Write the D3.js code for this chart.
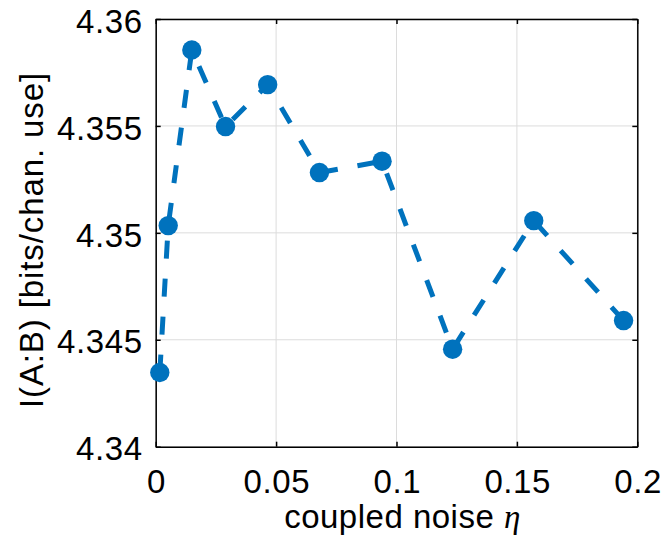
<!DOCTYPE html>
<html>
<head>
<meta charset="utf-8">
<script src="https://cdn.jsdelivr.net/npm/d3@7"></script>
<style>
  html, body { margin: 0; padding: 0; background: #fff; }
  svg { display: block; font-family: "Liberation Sans", Arial, sans-serif; }
</style>
</head>
<body>
<svg id="chart" width="663" height="549"></svg>
<script>
// Mutual information versus coupled noise strength
const etaValues = [0.0017, 0.0052, 0.015, 0.029, 0.0465, 0.068, 0.094, 0.1233, 0.157, 0.1943];
const mutualInfo = [4.34347, 4.35034, 4.35855, 4.35497, 4.35693, 4.35282, 4.35335, 4.34456, 4.35057, 4.3459];
const xTicks = [0, 0.05, 0.1, 0.15, 0.2];
const xTickLabels = ["0", "0.05", "0.1", "0.15", "0.2"];
const yTicks = [4.34, 4.345, 4.35, 4.355, 4.36];
const yTickLabels = ["4.34", "4.345", "4.35", "4.355", "4.36"];

const svg = d3.select("#chart");
const plotL = 155.7, plotR = 637.3, plotT = 19, plotB = 446.7;
const color = "#0072BD";
const tickFont = "33px";
const labelFont = "33px";

const x = d3.scaleLinear().domain([0, 0.2]).range([plotL, plotR]);
const y = d3.scaleLinear().domain([4.34, 4.36]).range([plotB, plotT]);

// grid
const grid = svg.append("g");
grid.selectAll(".gx").data(xTicks).join("line")
  .attr("x1", d => x(d)).attr("x2", d => x(d))
  .attr("y1", plotT).attr("y2", plotB)
  .attr("stroke", "#dcdcdc").attr("stroke-width", 1);
grid.selectAll(".gy").data(yTicks).join("line")
  .attr("x1", plotL).attr("x2", plotR)
  .attr("y1", d => y(d)).attr("y2", d => y(d))
  .attr("stroke", "#dcdcdc").attr("stroke-width", 1);

// axes (ticks point inward, box around plot)
const tickLen = 5;
const xAxisB = d3.axisBottom(x).tickValues(xTicks).tickSizeInner(-tickLen).tickSizeOuter(0)
  .tickFormat((d, i) => xTickLabels[i]);
const xAxisT = d3.axisTop(x).tickValues(xTicks).tickSizeInner(-tickLen).tickSizeOuter(0).tickFormat("");
const yAxisL = d3.axisLeft(y).tickValues(yTicks).tickSizeInner(-tickLen).tickSizeOuter(0)
  .tickFormat((d, i) => yTickLabels[i]).tickPadding(13);
const yAxisR = d3.axisRight(y).tickValues(yTicks).tickSizeInner(-tickLen).tickSizeOuter(0).tickFormat("");

function styleAxis(g) {
  g.select(".domain").attr("stroke", "#000").attr("stroke-width", 1.5);
  g.selectAll(".tick line").attr("stroke", "#000").attr("stroke-width", 1.5);
  g.selectAll(".tick text").attr("fill", "#000").style("font-size", tickFont)
    .style("letter-spacing", "0.6px")
    .style("font-family", "'Liberation Sans', Arial, sans-serif");
}
svg.append("g").attr("transform", `translate(0,${plotB})`).call(xAxisB).call(styleAxis)
  .selectAll(".tick text").attr("y", 46).attr("dy", 0).attr("dx", "0.3px");
svg.append("g").attr("transform", `translate(0,${plotT})`).call(xAxisT).call(styleAxis);
svg.append("g").attr("transform", `translate(${plotL},0)`).call(yAxisL).call(styleAxis)
  .selectAll(".tick text").attr("dy", "0.40em");
svg.append("g").attr("transform", `translate(${plotR},0)`).call(yAxisR).call(styleAxis);

// data line
const pts = etaValues.map((v, i) => [v, mutualInfo[i]]);
svg.append("path")
  .datum(pts)
  .attr("d", d3.line().x(d => x(d[0])).y(d => y(d[1])))
  .attr("fill", "none")
  .attr("stroke", color)
  .attr("stroke-width", 5)
  .attr("stroke-dasharray", "18,20");

svg.append("g").selectAll("circle").data(pts).join("circle")
  .attr("cx", d => x(d[0])).attr("cy", d => y(d[1]))
  .attr("r", 9.7).attr("fill", color);

// axis labels
const xl = svg.append("text")
  .attr("x", 402.5).attr("y", 528.3)
  .attr("text-anchor", "middle")
  .style("font-size", labelFont).style("letter-spacing", "0.5px").attr("fill", "#000");
xl.append("tspan").text("coupled noise ");
xl.append("tspan").text("η")
  .style("font-family", "'Liberation Serif', 'DejaVu Serif', serif")
  .style("font-style", "italic");

svg.append("text")
  .attr("transform", `translate(43,240) rotate(-90)`)
  .attr("text-anchor", "middle")
  .style("font-size", labelFont).style("letter-spacing", "0.9px").attr("fill", "#000")
  .text("I(A:B) [bits/chan. use]");
</script>
</body>
</html>
